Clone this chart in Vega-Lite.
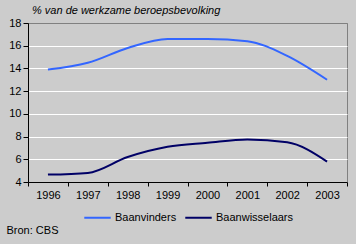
{
  "$schema": "https://vega.github.io/schema/vega-lite/v6.json",
  "width": 319,
  "height": 159,
  "autosize": {"type": "none"},
  "padding": {"left": 28, "top": 23, "right": 9, "bottom": 62},
  "background": "#CCCCCC",
  "config": {
    "font": "Liberation Sans",
    "view": {"stroke": "#808080", "strokeWidth": 1},
    "title": {"font": "Liberation Sans", "fontSize": 11, "fontStyle": "italic", "fontWeight": "normal", "color": "black"}
  },
  "title": {"text": "% van de werkzame beroepsbevolking", "anchor": "start", "frame": "group", "dx": 4, "offset": 1},
  "data": {
    "values": [
      {"jaar": "1996", "reeks": "Baanvinders", "waarde": 13.9},
      {"jaar": "1997", "reeks": "Baanvinders", "waarde": 14.5},
      {"jaar": "1998", "reeks": "Baanvinders", "waarde": 15.8},
      {"jaar": "1999", "reeks": "Baanvinders", "waarde": 16.6},
      {"jaar": "2000", "reeks": "Baanvinders", "waarde": 16.6},
      {"jaar": "2001", "reeks": "Baanvinders", "waarde": 16.4},
      {"jaar": "2002", "reeks": "Baanvinders", "waarde": 15.1},
      {"jaar": "2003", "reeks": "Baanvinders", "waarde": 13.0},
      {"jaar": "1996", "reeks": "Baanwisselaars", "waarde": 4.65},
      {"jaar": "1997", "reeks": "Baanwisselaars", "waarde": 4.8},
      {"jaar": "1998", "reeks": "Baanwisselaars", "waarde": 6.2},
      {"jaar": "1999", "reeks": "Baanwisselaars", "waarde": 7.1},
      {"jaar": "2000", "reeks": "Baanwisselaars", "waarde": 7.45},
      {"jaar": "2001", "reeks": "Baanwisselaars", "waarde": 7.75},
      {"jaar": "2002", "reeks": "Baanwisselaars", "waarde": 7.5},
      {"jaar": "2003", "reeks": "Baanwisselaars", "waarde": 5.8}
    ]
  },
  "mark": {"type": "line", "interpolate": "monotone", "strokeWidth": 2},
  "encoding": {
    "x": {
      "field": "jaar", "type": "ordinal", "bandPosition": 0.5,
      "scale": {"type": "band", "paddingInner": 0, "paddingOuter": 0},
      "axis": {
        "title": "Bron: CBS", "titleAnchor": "start", "titleX": -22, "titleY": 51,
        "titleBaseline": "alphabetic", "titleFontWeight": "normal", "titleFontSize": 11, "titleColor": "black",
        "labelAngle": 0, "labelFontSize": 11, "labelColor": "black", "labelPadding": 3,
        "tickBand": "extent", "tickSize": 4, "tickColor": "black", "domainColor": "black",
        "grid": false
      }
    },
    "y": {
      "field": "waarde", "type": "quantitative",
      "scale": {"domain": [4, 18], "nice": false, "zero": false},
      "axis": {
        "title": null, "values": [4, 6, 8, 10, 12, 14, 16, 18],
        "labelFontSize": 11, "labelColor": "black", "labelPadding": 2,
        "tickSize": 5, "tickColor": "black", "domainColor": "black",
        "grid": true, "gridOpacity": 1, "gridWidth": 1,
        "gridColor": {"condition": {"test": "datum.value == 18", "value": "#808080"}, "value": "white"}
      }
    },
    "color": {
      "field": "reeks", "type": "nominal",
      "scale": {"domain": ["Baanvinders", "Baanwisselaars"], "range": ["#3366FF", "#000066"]},
      "legend": {
        "title": null, "orient": "none", "direction": "horizontal",
        "legendX": 55, "legendY": 180, "symbolType": "stroke", "symbolSize": 700,
        "symbolStrokeWidth": 2, "labelFontSize": 11, "labelColor": "black",
        "columnPadding": 4, "labelOffset": 3
      }
    }
  }
}
